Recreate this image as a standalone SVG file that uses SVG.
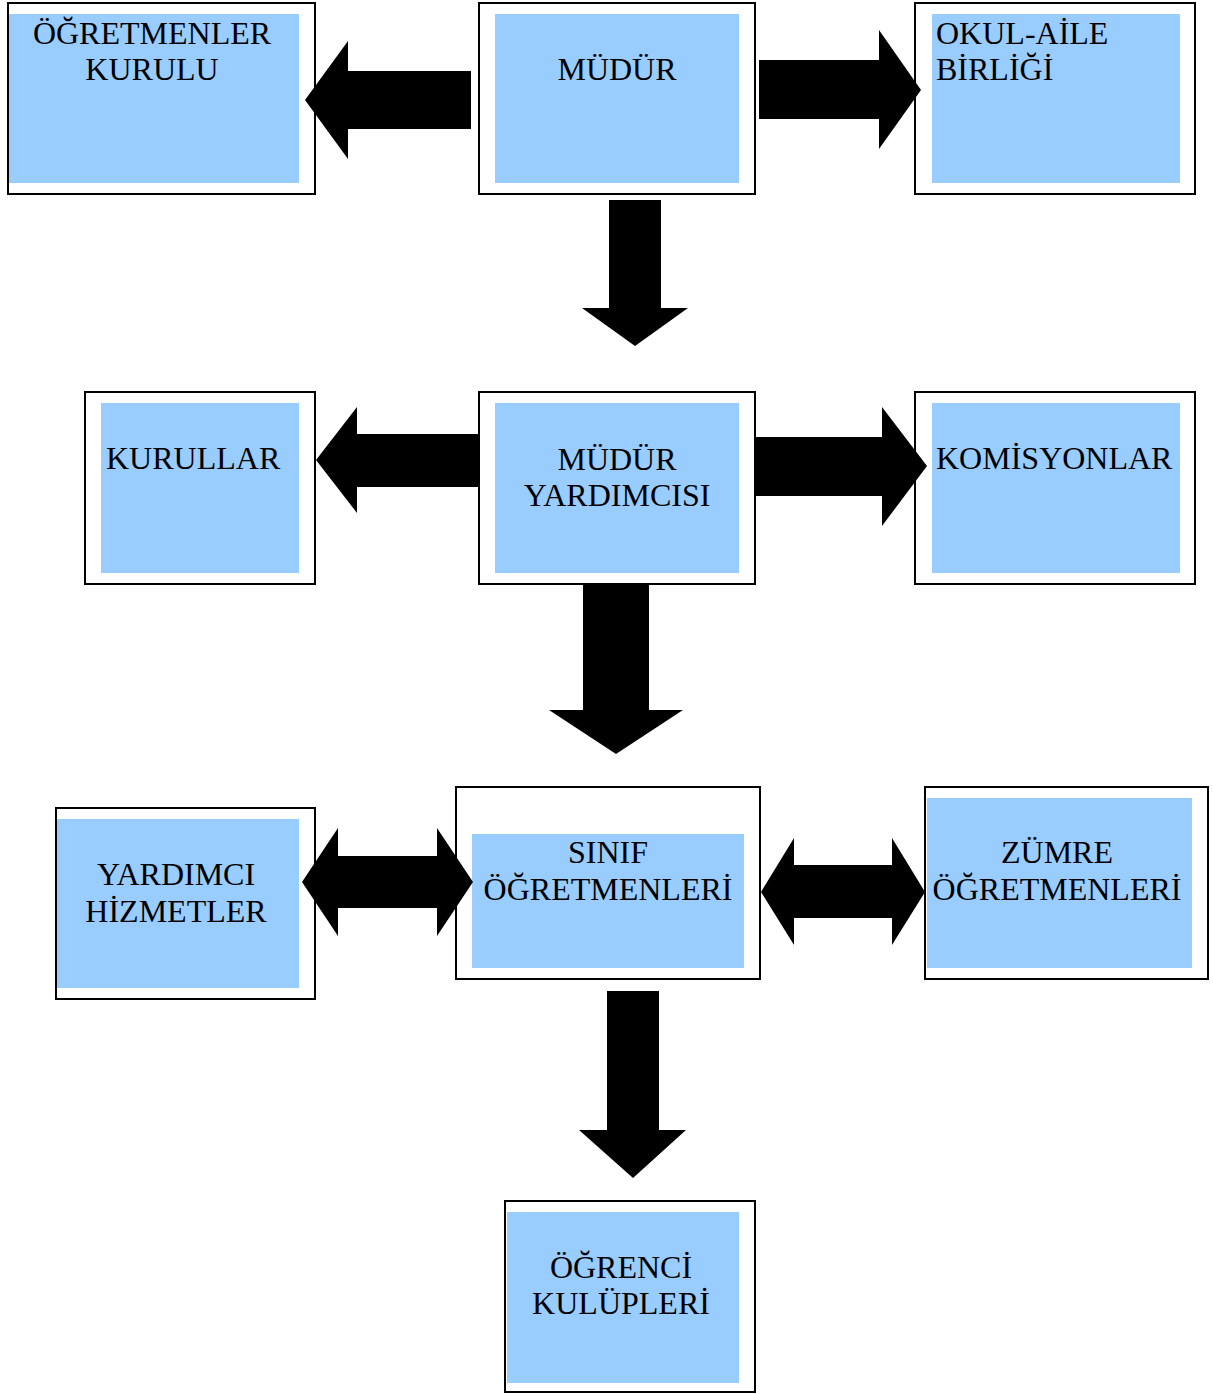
<svg xmlns="http://www.w3.org/2000/svg" width="1213" height="1394" viewBox="0 0 1213 1394">
  <style>
    .fill { fill: #99CCFF; stroke: none; }
    .frame { fill: none; stroke: #000000; stroke-width: 2; }
    .lbl { font-family: "Liberation Serif", "Times New Roman", serif; font-size: 32px; fill: #000000; }
    .c { text-anchor: middle; }
    .arrow { fill: #000000; stroke: none; }
  </style>
  <rect x="0" y="0" width="1213" height="1394" fill="#FFFFFF"/>

  <g id="node-ogretmenler-kurulu">
    <rect class="fill" x="9" y="14" width="290" height="169"/>
    <rect class="frame" x="8" y="3" width="307" height="191"/>
    <text class="lbl c" x="152" y="44">ÖĞRETMENLER</text>
    <text class="lbl c" x="152" y="80">KURULU</text>
  </g>

  <g id="node-mudur">
    <rect class="fill" x="495" y="14" width="244" height="169"/>
    <rect class="frame" x="479" y="3" width="276" height="191"/>
    <text class="lbl c" x="617" y="80">MÜDÜR</text>
  </g>

  <g id="node-okul-aile">
    <rect class="fill" x="932" y="14" width="248" height="169"/>
    <rect class="frame" x="915" y="3" width="280" height="191"/>
    <text class="lbl" x="936" y="44">OKUL-AİLE</text>
    <text class="lbl" x="936" y="80">BİRLİĞİ</text>
  </g>

  <g id="node-kurullar">
    <rect class="fill" x="101" y="403" width="198" height="170"/>
    <rect class="frame" x="85" y="392" width="230" height="192"/>
    <text class="lbl" x="106" y="469">KURULLAR</text>
  </g>

  <g id="node-mudur-yardimcisi">
    <rect class="fill" x="495" y="403" width="244" height="170"/>
    <rect class="frame" x="479" y="392" width="276" height="192"/>
    <text class="lbl c" x="617" y="470">MÜDÜR</text>
    <text class="lbl c" x="617" y="506">YARDIMCISI</text>
  </g>

  <g id="node-komisyonlar">
    <rect class="fill" x="932" y="403" width="248" height="170"/>
    <rect class="frame" x="915" y="392" width="280" height="192"/>
    <text class="lbl" x="936" y="469">KOMİSYONLAR</text>
  </g>

  <g id="node-yardimci-hizmetler">
    <rect class="fill" x="57" y="819" width="242" height="169"/>
    <rect class="frame" x="56" y="808" width="259" height="191"/>
    <text class="lbl c" x="176" y="885">YARDIMCI</text>
    <text class="lbl c" x="176" y="922">HİZMETLER</text>
  </g>

  <g id="node-sinif-ogretmenleri">
    <rect class="fill" x="472" y="834" width="272" height="134"/>
    <rect class="frame" x="456" y="787" width="304" height="192"/>
    <text class="lbl c" x="608" y="863">SINIF</text>
    <text class="lbl c" x="608" y="900">ÖĞRETMENLERİ</text>
  </g>

  <g id="node-zumre-ogretmenleri">
    <rect class="fill" x="927" y="798" width="265" height="170"/>
    <rect class="frame" x="925" y="787" width="283" height="192"/>
    <text class="lbl c" x="1057" y="863">ZÜMRE</text>
    <text class="lbl c" x="1057" y="900">ÖĞRETMENLERİ</text>
  </g>

  <g id="node-ogrenci-kulupleri">
    <rect class="fill" x="507" y="1212" width="232" height="171"/>
    <rect class="frame" x="505" y="1201" width="250" height="191"/>
    <text class="lbl c" x="621" y="1278">ÖĞRENCİ</text>
    <text class="lbl c" x="621" y="1314">KULÜPLERİ</text>
  </g>

  <g id="connectors">
    <polygon class="arrow" points="305,100 348,41 348,71 471,71 471,129 348,129 348,159"/>
    <polygon class="arrow" points="759,60 879,60 879,30 921,90 879,149 879,119 759,119"/>
    <polygon class="arrow" points="609,200 661,200 661,308 688,308 635,346 582,308 609,308"/>
    <polygon class="arrow" points="316,460 357,407 357,434 479,434 479,487 357,487 357,513"/>
    <polygon class="arrow" points="755,437 882,437 882,407 927,466 882,526 882,496 755,496"/>
    <polygon class="arrow" points="583,584 649,584 649,710 683,710 616,754 549,710 583,710"/>
    <polygon class="arrow" points="302,882 338,828 338,856 437,856 437,828 473,882 437,936 437,908 338,908 338,936"/>
    <polygon class="arrow" points="761,892 794,838 794,865 892,865 892,838 925,892 892,945 892,918 794,918 794,945"/>
    <polygon class="arrow" points="607,991 659,991 659,1130 686,1130 633,1178 579,1130 607,1130"/>
  </g>
</svg>
